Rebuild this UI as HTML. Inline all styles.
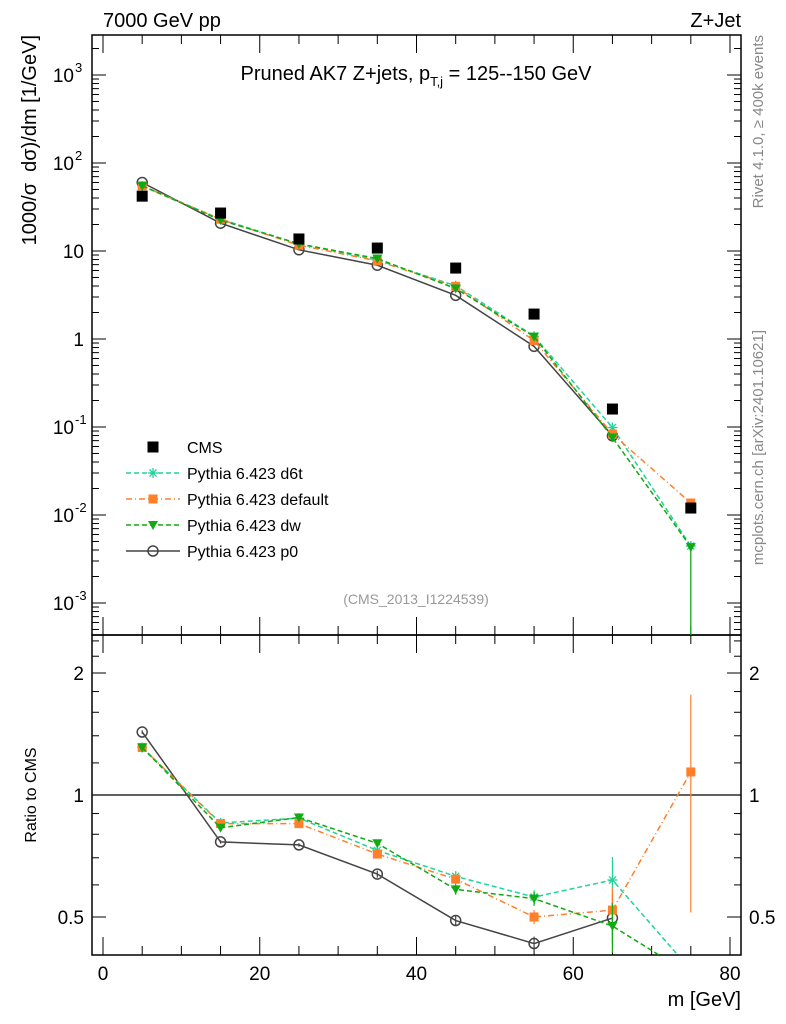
<!DOCTYPE html>
<html><head><meta charset="utf-8"><style>
html,body{margin:0;padding:0;background:#fff;width:786px;height:1024px;overflow:hidden;}
svg{display:block;font-family:"Liberation Sans",sans-serif;}
</style></head><body>
<svg id="c" width="786" height="1024"></svg>
<script>
const masses=[5,15,25,35,45,55,65,75];
const cmsValues=[42,27,13.7,10.8,6.4,1.92,0.16,0.012];
const d6tRatio=[1.31,0.853,0.877,0.73,0.63,0.56,0.617,0.37];
const defaultRatio=[1.31,0.85,0.85,0.715,0.62,0.5,0.52,1.14];
const dwRatio=[1.31,0.83,0.88,0.76,0.585,0.555,0.475,0.36];
const p0Ratio=[1.43,0.766,0.753,0.638,0.49,0.43,0.497,null];
const ratioErr=[0.01,0.01,0.01,0.02,0.03,0.04,0.14,0.55];
const mainTicks=["10^-3","10^-2","10^-1","1","10","10^2","10^3"];
const xTicks=[0,20,40,60,80];
const ratioTicks=[0.5,1,2];

const NS="http://www.w3.org/2000/svg";
const svg=document.getElementById('c');
const L=92,R=741,T=35,MB=635,B=955;
const X=v=>103+(v)*(730-103)/80;
const YM=v=>339-88*Math.log10(v);
const YR=v=>795-122*Math.log2(v);
function el(tag,attrs,parent){const e=document.createElementNS(NS,tag);for(const k in attrs)e.setAttribute(k,attrs[k]);(parent||svg).appendChild(e);return e;}
function txt(s,x,y,size,anchor,parent,extra){const t=el('text',Object.assign({x:x,y:y,'font-size':size,'text-anchor':anchor||'start'},extra||{}),parent);t.innerHTML=s;return t;}

const f1=el('rect',{x:L,y:T,width:R-L,height:MB-T,fill:'none',stroke:'#000','stroke-width':1.5});

const f2=el('rect',{x:L,y:MB,width:R-L,height:B-MB,fill:'none',stroke:'#000','stroke-width':1.5});


for(let e=-4;e<=3;e++){for(let m=1;m<10;m++){const v=m*Math.pow(10,e);const y=YM(v);if(y<T||y>MB)continue;const len=m==1?14:7;
el('line',{x1:L,x2:L+len,y1:y,y2:y,stroke:'#000'});el('line',{x1:R,x2:R-len,y1:y,y2:y,stroke:'#000'});}}
const ml=svg.appendChild(document.createElementNS(NS,'g'));

mainTicks.forEach((s,i)=>{const e=i-3;const y=YM(Math.pow(10,e));
 if(e===0)txt('1',84,y+7,19,'end',ml);else if(e===1)txt('10',84,y+7,19,'end',ml);
 else{txt('10',74,y+7,19,'end',ml);txt(String(e),75,y-3,13,'start',ml);}});
[0.4,0.5,0.6,0.7,0.8,0.9,1,1.2,1.4,1.6,1.8,2,2.2,2.4].forEach(v=>{const y=YR(v);if(y<MB||y>B)return;const len=[0.5,1,2].includes(v)?14:7;
el('line',{x1:L,x2:L+len,y1:y,y2:y,stroke:'#000'});el('line',{x1:R,x2:R-len,y1:y,y2:y,stroke:'#000'});});
ratioTicks.forEach(v=>{txt(String(v),84,YR(v)+7,19,'end');txt(String(v),749,YR(v)+7,19,'start');});
el('line',{x1:L,x2:R,y1:YR(1),y2:YR(1),stroke:'#000','stroke-width':1.2});
for(let v=0;v<=80;v+=5){const x=X(v);const len=v%20==0?18:9;
 el('line',{x1:x,x2:x,y1:B,y2:B-len,stroke:'#000'});el('line',{x1:x,x2:x,y1:MB,y2:MB-len,stroke:'#000'});el('line',{x1:x,x2:x,y1:T,y2:T+len,stroke:'#000'});el('line',{x1:x,x2:x,y1:MB,y2:MB+len,stroke:'#000'});}
xTicks.forEach(v=>txt(String(v),X(v),980,19,'middle'));

txt('7000 GeV pp',103,27,20,'start');
txt('Z+Jet',741,27,20,'end');
txt('Pruned AK7 Z+jets, p<tspan font-size="13" dy="6">T,j</tspan><tspan dy="-6"> = 125--150 GeV</tspan>',416,80,20,'middle');
txt('(CMS_2013_I1224539)',416,604,14,'middle',null,{fill:'#999'});
txt('m [GeV]',741,1006,20,'end');
txt('1000/σ&#160;&#160;dσ)/dm [1/GeV]',0,0,20,'end',null,{transform:'translate(36,35) rotate(-90)'});
txt('Ratio to CMS',0,0,16,'middle',null,{transform:'translate(36,795) rotate(-90)'});
txt('Rivet 4.1.0, ≥ 400k events',0,0,15,'end',null,{transform:'translate(763,35) rotate(-90)',fill:'#888'});
txt('mcplots.cern.ch [arXiv:2401.10621]',0,0,15,'end',null,{transform:'translate(763,330) rotate(-90)',fill:'#888'});

const series=[
 {name:'p0',r:p0Ratio,color:'#444',dash:'',mk:'circle'},
 {name:'d6t',r:d6tRatio,color:'#22d39a',dash:'5,3',mk:'star'},
 {name:'default',r:defaultRatio,color:'#ff7f2a',dash:'6,3,1,3',mk:'square'},
 {name:'dw',r:dwRatio,color:'#11aa11',dash:'5,3',mk:'tri'},
];
function marker(kind,x,y,color,g){
 if(kind==='circle')el('circle',{cx:x,cy:y,r:5,fill:'none',stroke:color,'stroke-width':1.5},g);
 else if(kind==='square')el('rect',{x:x-4.5,y:y-4.5,width:9,height:9,fill:color},g);
 else if(kind==='cms')el('rect',{x:x-5.5,y:y-5.5,width:11,height:11,fill:'#000'},g);
 else if(kind==='tri')el('path',{d:`M${x-5},${y-4}L${x+5},${y-4}L${x},${y+5}Z`,fill:color},g);
 else if(kind==='star'){[0,45,90,135].forEach(a=>{const c=Math.cos(a*Math.PI/180)*5,s=Math.sin(a*Math.PI/180)*5;el('line',{x1:x-c,y1:y-s,x2:x+c,y2:y+s,stroke:color,'stroke-width':1.3},g);});}
}
function clipRect(id,y1,y2){const cp=el('clipPath',{id:id});el('rect',{x:L,y:y1,width:R-L,height:y2-y1},cp);}
clipRect('cm',T,MB);clipRect('cr',MB,B);
series.forEach(s=>{
 const gm=el('g',{'clip-path':'url(#cm)'});
 
 const gr=el('g',{'clip-path':'url(#cr)'});
 
 const pm=[],pr=[];
 masses.forEach((m,i)=>{if(s.r[i]==null)return;const v=cmsValues[i]*s.r[i];pm.push([X(m),YM(v)]);pr.push([X(m),YR(s.r[i])]);});
 el('polyline',{points:pm.map(p=>p.join(',')).join(' '),fill:'none',stroke:s.color,'stroke-width':1.5,'stroke-dasharray':s.dash},gm);
 el('polyline',{points:pr.map(p=>p.join(',')).join(' '),fill:'none',stroke:s.color,'stroke-width':1.5,'stroke-dasharray':s.dash},gr);
 masses.forEach((m,i)=>{if(s.r[i]==null)return;const e=ratioErr[i]*s.r[i];
  if(!(i===7&&s.name!=='default'))el('line',{x1:X(m),x2:X(m),y1:YR(s.r[i]+e),y2:YR(Math.max(s.r[i]-e,0.01)),stroke:s.color,'stroke-width':1.2},gr);
  marker(s.mk,X(m),YM(cmsValues[i]*s.r[i]),s.color,gm);marker(s.mk,X(m),YR(s.r[i]),s.color,gr);});
 if(s.name==='dw'){el('line',{x1:X(75),x2:X(75),y1:YM(cmsValues[7]*s.r[7]),y2:MB,stroke:s.color,'stroke-width':1.3},gm);}
});
const gc=el('g',{});
masses.forEach((m,i)=>marker('cms',X(m),YM(cmsValues[i]),'#000',gc));

const lg=el('g',{});
const lent=[['CMS','cms','#000',null],['Pythia 6.423 d6t','star','#22d39a','5,3'],['Pythia 6.423 default','square','#ff7f2a','6,3,1,3'],['Pythia 6.423 dw','tri','#11aa11','5,3'],['Pythia 6.423 p0','circle','#444','']];
lent.forEach((e,i)=>{const y=447+i*26;
 if(e[3]!==null)el('line',{x1:126,x2:180,y1:y,y2:y,stroke:e[2],'stroke-width':1.5,'stroke-dasharray':e[3]},lg);
 marker(e[1],153,y,e[2],lg);txt(e[0],187,y+6,16,'start',lg);});
</script>
</body></html>
